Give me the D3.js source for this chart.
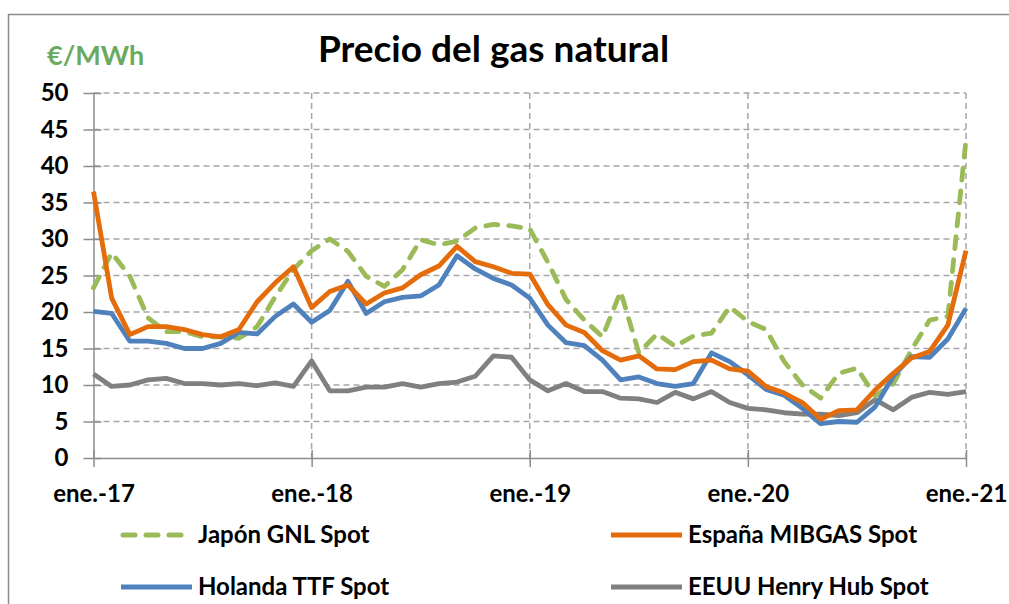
<!DOCTYPE html>
<html><head><meta charset="utf-8">
<script src="https://cdn.jsdelivr.net/npm/d3@7"></script>
<style>
html,body{margin:0;padding:0;background:#fff;overflow:hidden}
text{font-family:Lato,"Open Sans",sans-serif}
</style></head>
<body>
<svg id="c" width="1009" height="604"></svg>
<script>
const months = ["2017-01","2017-02","2017-03","2017-04","2017-05","2017-06","2017-07","2017-08","2017-09","2017-10","2017-11","2017-12",
"2018-01","2018-02","2018-03","2018-04","2018-05","2018-06","2018-07","2018-08","2018-09","2018-10","2018-11","2018-12",
"2019-01","2019-02","2019-03","2019-04","2019-05","2019-06","2019-07","2019-08","2019-09","2019-10","2019-11","2019-12",
"2020-01","2020-02","2020-03","2020-04","2020-05","2020-06","2020-07","2020-08","2020-09","2020-10","2020-11","2020-12",
"2021-01"];
const japon = [23.3,28.1,24.9,19.2,17.3,17.3,16.6,16.6,16.4,18.0,22.1,25.8,28.4,30.0,28.3,24.9,23.5,25.8,29.9,29.2,29.7,31.5,32.0,31.8,31.4,26.8,21.7,18.9,16.6,22.8,14.4,17.0,15.3,16.7,17.1,20.7,18.7,17.6,13.2,10.0,8.2,11.6,12.3,8.5,10.2,14.8,18.9,19.4,43.6];
const espana = [36.5,21.9,16.9,18.0,18.0,17.6,16.9,16.6,17.6,21.4,24.0,26.2,20.6,22.8,23.7,21.1,22.6,23.3,25.1,26.3,29.0,26.9,26.2,25.3,25.2,21.0,18.2,17.2,14.7,13.4,14.0,12.2,12.1,13.2,13.4,12.2,11.9,9.8,8.9,7.6,5.3,6.5,6.6,9.3,11.6,13.7,14.6,18.2,28.4];
const holanda = [20.1,19.8,16.0,16.0,15.7,15.0,15.0,15.7,17.2,17.0,19.4,21.1,18.6,20.2,24.2,19.8,21.4,22.0,22.2,23.7,27.7,25.9,24.6,23.7,21.9,18.2,15.8,15.4,13.4,10.7,11.1,10.2,9.8,10.2,14.4,13.2,11.4,9.4,8.6,6.8,4.7,5.0,4.9,7.0,11.2,13.9,13.8,16.3,20.5];
const eeuu = [11.5,9.8,10.0,10.7,10.9,10.2,10.2,10.0,10.2,9.9,10.3,9.8,13.3,9.2,9.2,9.7,9.7,10.2,9.7,10.2,10.4,11.2,14.0,13.8,10.7,9.2,10.2,9.1,9.1,8.2,8.1,7.6,9.0,8.1,9.1,7.6,6.8,6.6,6.2,6.0,6.0,5.8,6.2,8.0,6.6,8.3,9.0,8.7,9.1];
const xTickMonths = ["2017-01","2018-01","2019-01","2020-01","2021-01"];
const xTickLabels = ["ene.-17","ene.-18","ene.-19","ene.-20","ene.-21"];
const yTicks = [0,5,10,15,20,25,30,35,40,45,50];
const seriesNames = ["Japón GNL Spot","España MIBGAS Spot","Holanda TTF Spot","EEUU Henry Hub Spot"];

const series = [
  {name:seriesNames[0], values:japon, color:"#9bbb59", dash:"12,11"},
  {name:seriesNames[1], values:espana, color:"#e46c0a", dash:null},
  {name:seriesNames[2], values:holanda, color:"#4f81bd", dash:null},
  {name:seriesNames[3], values:eeuu, color:"#808080", dash:null}
];

const svg = d3.select("#c");
const L=93.5, R=966, T=93, B=458;
const x = d3.scalePoint().domain(months).range([L,R]);
const y = d3.scaleLinear().domain([0,50]).range([B,T]);
const grid="#a6a6a6", axc="#8c8c8c";

// frame
svg.append("rect").attr("x",8.5).attr("y",14.5).attr("width",1100).attr("height",700)
  .attr("fill","none").attr("stroke","#8c8c8c").attr("stroke-width",1.5);

// horizontal grid
svg.append("g").selectAll("line").data(yTicks.filter(d=>d>0)).join("line")
  .attr("x1",L).attr("x2",R).attr("y1",d=>y(d)).attr("y2",d=>y(d))
  .attr("stroke",grid).attr("stroke-width",1.5).attr("stroke-dasharray","6,4");
// vertical grid
svg.append("g").selectAll("line").data(xTickMonths.slice(1)).join("line")
  .attr("x1",d=>x(d)).attr("x2",d=>x(d)).attr("y1",T).attr("y2",B)
  .attr("stroke",grid).attr("stroke-width",1.5).attr("stroke-dasharray","6,4");

// y axis
const yAxis = svg.append("g").attr("transform",`translate(${L},0)`)
  .call(d3.axisLeft(y).tickValues(yTicks).tickSize(0).tickPadding(25).tickFormat(d3.format("d")));
yAxis.select(".domain").attr("stroke",axc).attr("stroke-width",1.5);
yAxis.selectAll(".tick line").attr("x1",-10).attr("x2",8).attr("stroke",axc).attr("stroke-width",1.5);
yAxis.selectAll(".tick text").attr("font-size",24).attr("font-weight","bold").attr("fill","#000")
  .attr("font-family","Lato");

// x axis
const xAxis = svg.append("g").attr("transform",`translate(0,${B})`)
  .call(d3.axisBottom(x).tickValues(xTickMonths).tickSize(0).tickPadding(27)
    .tickFormat(d=>xTickLabels[xTickMonths.indexOf(d)]));
xAxis.select(".domain").attr("stroke",axc).attr("stroke-width",1.5);
xAxis.selectAll(".tick line").attr("y1",-8).attr("y2",9).attr("stroke",axc).attr("stroke-width",1.5);
xAxis.selectAll(".tick text").attr("font-size",24).attr("font-weight","bold").attr("fill","#000")
  .attr("font-family","Lato");

// lines
const line = d3.line().x((d,i)=>x(months[i])).y(d=>y(d));
const order = [3,0,2,1];
order.forEach(k=>{
  const s=series[k];
  svg.append("path").datum(s.values).attr("d",line)
    .attr("fill","none").attr("stroke",s.color).attr("stroke-width",4.8)
    .attr("stroke-linejoin","round")
    .attr("stroke-linecap",s.dash?"round":"butt")
    .attr("stroke-dasharray",s.dash);
});

// title
svg.append("text").attr("x",493.5).attr("y",62).attr("text-anchor","middle")
  .attr("font-size",37).attr("font-weight","bold").attr("fill","#000").text("Precio del gas natural");
svg.append("text").attr("x",47).attr("y",65)
  .attr("font-size",27).attr("font-weight","bold").attr("fill","#6aaa5e").text("€/MWh");

// legend
const legPos = [[121,535],[611,535],[121,587],[611,587]];
series.forEach((s,i)=>{
  const [lx,ly]=legPos[i];
  svg.append("line").attr("x1",s.dash?lx+2:lx).attr("x2",s.dash?lx+66:lx+71).attr("y1",ly).attr("y2",ly)
    .attr("stroke",s.color).attr("stroke-width",5)
    .attr("stroke-linecap",s.dash?"round":"butt")
    .attr("stroke-dasharray",s.dash?"12,11":null);
  svg.append("text").attr("x",lx+77).attr("y",ly+8).attr("font-size",24).attr("font-weight","bold")
    .attr("fill","#000").text(s.name);
});
</script>
</body></html>
